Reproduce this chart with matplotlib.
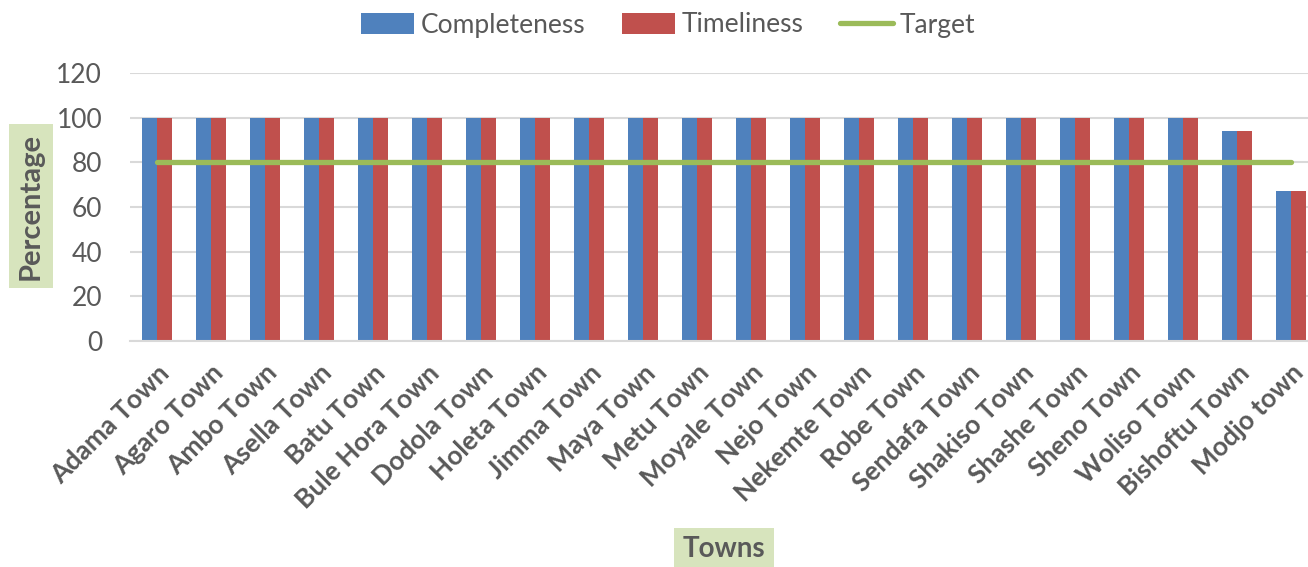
import matplotlib
matplotlib.use("Agg")
import matplotlib.pyplot as plt
import numpy as np

towns = ["Adama Town", "Agaro Town", "Ambo Town", "Asella Town", "Batu Town",
         "Bule Hora Town", "Dodola Town", "Holeta Town", "Jimma Town", "Maya Town",
         "Metu Town", "Moyale Town", "Nejo Town", "Nekemte Town", "Robe Town",
         "Sendafa Town", "Shakiso Town", "Shashe Town", "Sheno Town", "Woliso Town",
         "Bishoftu Town", "Modjo town"]
completeness = [100, 100, 100, 100, 100, 100, 100, 100, 100, 100, 100,
                100, 100, 100, 100, 100, 100, 100, 100, 100, 94, 67]
timeliness = [100, 100, 100, 100, 100, 100, 100, 100, 100, 100, 100,
              100, 100, 100, 100, 100, 100, 100, 100, 100, 94, 67]
target = [80] * len(towns)
yticks = [0, 20, 40, 60, 80, 100, 120]

BLUE = "#4F81BD"
RED = "#C0504D"
GREEN = "#9BBB59"
TXT = "#595959"
GRID = "#D9D9D9"
BOX = "#D7E4BD"

plt.rcParams['font.family'] = ['Lato', 'DejaVu Sans']

W, H = 1308, 567
fig = plt.figure(figsize=(W / 100, H / 100), dpi=100)
ax = fig.add_axes([130 / W, (H - 341) / H, (1318 - 130) / W, (341 - 73) / H])

x = np.arange(len(towns))
bw = 0.28
b1 = ax.bar(x - bw / 2, completeness, bw, color=BLUE, label="Completeness", zorder=2)
b2 = ax.bar(x + bw / 2, timeliness, bw, color=RED, label="Timeliness", zorder=2)
l1, = ax.plot(x, target, color=GREEN, lw=3.8, solid_capstyle='round', label="Target", zorder=3)

ax.set_xlim(-0.5, len(towns) - 0.5)
ax.set_ylim(0, 120)
ax.set_yticks(yticks)
ax.yaxis.grid(True, color=GRID, lw=1.5, zorder=0)
ax.set_axisbelow(True)
for s in ["top", "right", "left"]:
    ax.spines[s].set_visible(False)
ax.spines["bottom"].set_color(GRID)
ax.spines["bottom"].set_linewidth(1.5)
ax.tick_params(axis='both', length=0, colors=TXT)
ax.tick_params(axis='y', labelsize=19, pad=20)

ax.set_xticks(x)
ax.set_xticklabels(towns, rotation=45, ha='right', rotation_mode='anchor',
                   fontsize=19, fontweight='bold', color=TXT)
ax.tick_params(axis='x', pad=14)

fig.text(31 / W, (H - 206) / H, "Percentage", rotation=90, ha='center', va='center',
         fontsize=21, fontweight='bold', color=TXT,
         bbox=dict(boxstyle='square,pad=0.3', fc=BOX, ec='none'))
fig.text(724 / W, (H - 549) / H, "Towns", ha='center', va='center',
         fontsize=20, fontweight='bold', color=TXT,
         bbox=dict(boxstyle='square,pad=0.3', fc=BOX, ec='none'))

fig.legend([b1, b2, l1], ["Completeness", "Timeliness", "Target"],
           loc='center', bbox_to_anchor=(668 / W, (H - 25) / H), ncol=3,
           frameon=False, fontsize=19, labelcolor=TXT, handlelength=2.0,
           handleheight=0.85, columnspacing=1.4, handletextpad=0.25)

fig.savefig("out.png", dpi=100)
